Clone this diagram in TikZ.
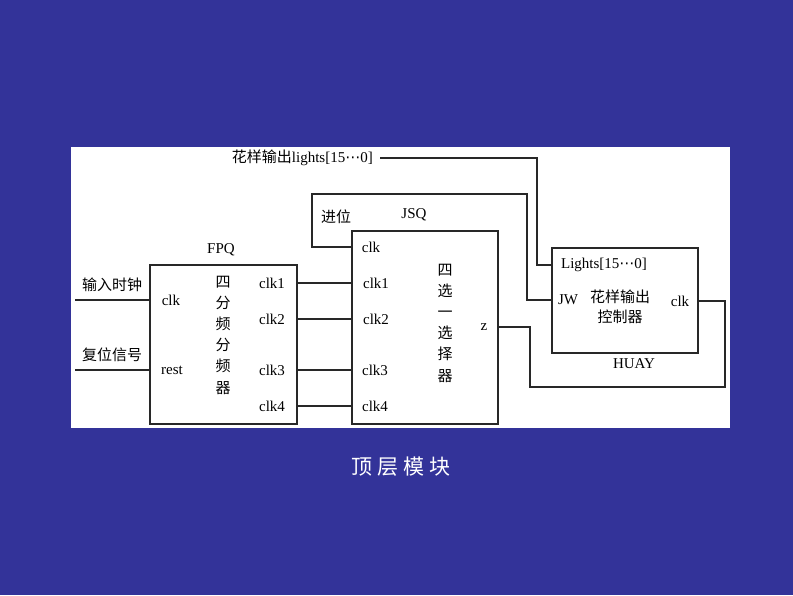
\documentclass[tikz,border=0pt]{standalone}
\usepackage{fontspec}
\setmainfont{Liberation Serif}
\newfontfamily\cjk{Noto Sans CJK SC}
\newfontfamily\dejavu{DejaVu Sans}
\newcommand{\mdots}{{\dejavu ⋯}}
\definecolor{bgblue}{RGB}{51,51,153}
\definecolor{wirec}{RGB}{40,40,40}
\begin{document}
\begin{tikzpicture}[x=1pt,y=-1pt,
  every node/.style={inner sep=0pt, font=\fontsize{15}{15}\selectfont},
  box/.style={draw=wirec, line width=1.5pt, anchor=north west, inner sep=0pt},
  wire/.style={draw=wirec, line width=1.4pt},
  vtext/.style={align=center, font=\cjk\fontsize{15}{21.2}\selectfont},
  cjkt/.style={font=\cjk\fontsize{15}{15}\selectfont}]
\useasboundingbox (0,0) rectangle (793,595);
\fill[bgblue] (0,0) rectangle (793,595);
\fill[white] (71,147) rectangle (730,428);

% boxes
\node[box, minimum width=147pt, minimum height=159pt] (fpq) at (149,264) {};
\node[box, minimum width=146pt, minimum height=193pt] (jsq) at (351,230) {};
\node[box, minimum width=146pt, minimum height=105pt] (huay) at (551,247) {};

% box names
\node (fpqname) at (221,250) {FPQ};
\node (jsqname) at (414,215) {JSQ};
\node (huayname) at (634,364) {HUAY};

% FPQ contents
\node (fclk) at (171,300) {clk};
\node (frest) at (172,370) {rest};
\node[vtext] (fdesc) at (223,335) {四\\分\\频\\分\\频\\器};
\node (f1) at (272,283) {clk1};
\node (f2) at (272,319) {clk2};
\node (f3) at (272,370) {clk3};
\node (f4) at (272,406) {clk4};

% JSQ contents
\node (jclk) at (371,247) {clk};
\node (j1) at (376,283) {clk1};
\node (j2) at (376,319) {clk2};
\node (j3) at (375,370) {clk3};
\node (j4) at (375,406) {clk4};
\node[vtext] (jdesc) at (445,323) {四\\选\\一\\选\\择\\器};
\node (jz) at (484,327) {z};

% HUAY contents
\node (hl) at (604,265) {Lights[15\mdots0]};
\node (hjw) at (568,300) {JW};
\node[align=center, font=\cjk\fontsize{15}{20}\selectfont] (hdesc) at (620,307) {花样输出\\控制器};
\node (hclk) at (680,301) {clk};

% external labels
\node[cjkt] (inclk) at (112,285) {输入时钟};
\node[cjkt] (inrst) at (112,355) {复位信号};
\node[cjkt] (jinwei) at (336,217) {进位};
\node[anchor=east] (ltitle) at (373,158) {{\cjk 花样输出}lights[15\mdots0]};

\coordinate (a1) at (75,300);
\coordinate (a2) at (75,370);
\coordinate (lstart) at (380,158);

% wires
\draw[wire] (a1) -- (fpq.west |- a1);
\draw[wire] (a2) -- (fpq.west |- a2);
\draw[wire] (fpq.east |- f1) -- (jsq.west |- f1);
\draw[wire] (fpq.east |- f2) -- (jsq.west |- f2);
\draw[wire] (fpq.east |- f3) -- (jsq.west |- f3);
\draw[wire] (fpq.east |- f4) -- (jsq.west |- f4);
\draw[wire] (lstart) -- (537,158) -- (537,265) -- (huay.west |- hl);
\draw[wire] (jsq.west |- jclk) -- (312,247) -- (312,194) -- (527,194) -- (527,300) -- (huay.west |- hjw);
\draw[wire] (jsq.east |- jz) -- (530,327) -- (530,387) -- (725,387) -- (725,301) -- (huay.east |- hclk);

% caption
\node[text=white, font=\cjk\fontsize{21}{21}\selectfont] (cap) at (401,467) {顶\hspace{5pt}层\hspace{5pt}模\hspace{5pt}块};
\end{tikzpicture}
\end{document}
